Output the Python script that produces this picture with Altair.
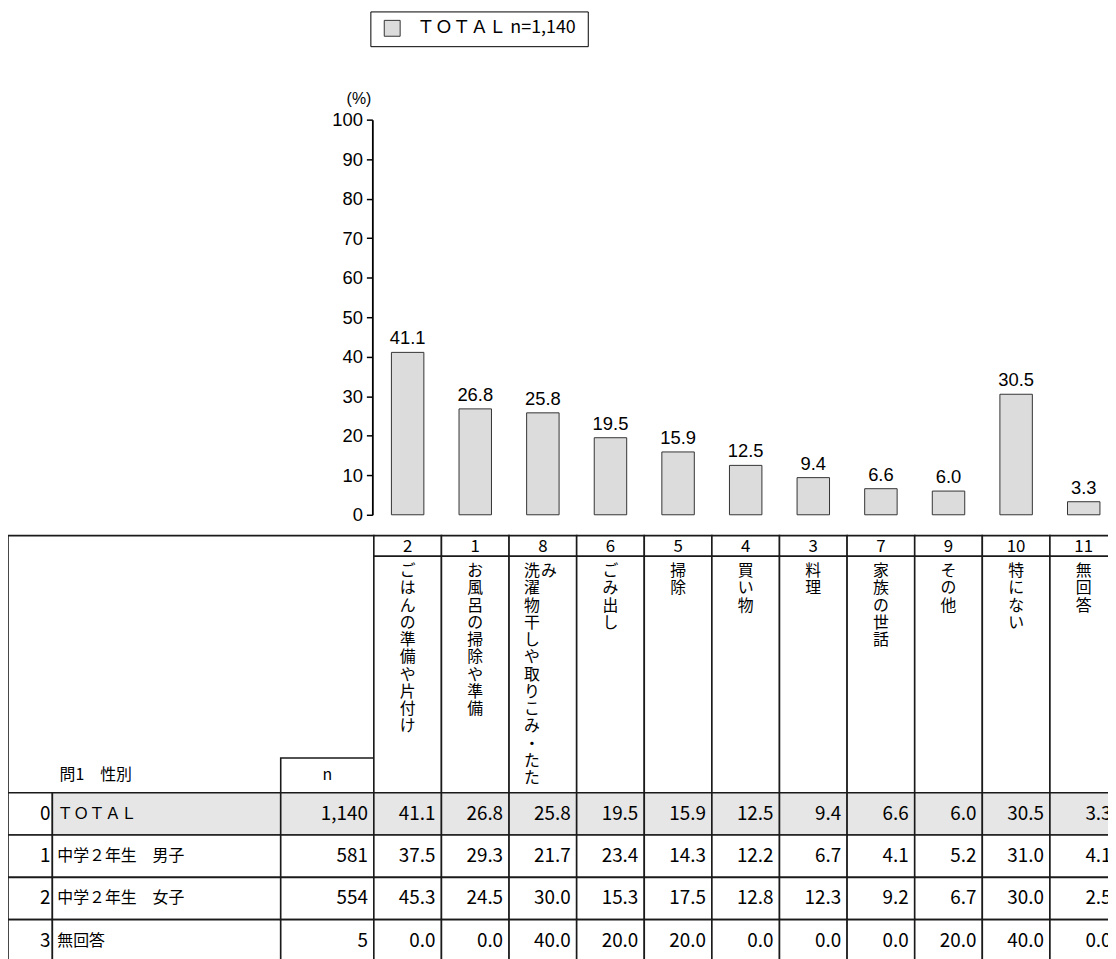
import altair as alt
import pandas as pd

# ---------------- data ----------------
codes = ["2", "1", "8", "6", "5", "4", "3", "7", "9", "10", "11"]
items = ["ごはんの準備や片付け", "お風呂の掃除や準備", "洗濯物干しや取りこみ・たたみ", "ごみ出し",
         "掃除", "買い物", "料理", "家族の世話", "その他", "特にない", "無回答"]
total_pct = [41.1, 26.8, 25.8, 19.5, 15.9, 12.5, 9.4, 6.6, 6.0, 30.5, 3.3]
boys_pct = [37.5, 29.3, 21.7, 23.4, 14.3, 12.2, 6.7, 4.1, 5.2, 31.0, 4.1]
girls_pct = [45.3, 24.5, 30.0, 15.3, 17.5, 12.8, 12.3, 9.2, 6.7, 30.0, 2.5]
noans_pct = [0.0, 0.0, 40.0, 20.0, 20.0, 0.0, 0.0, 0.0, 20.0, 40.0, 0.0]
row_ids = ["0", "1", "2", "3"]
row_names = ["ＴＯＴＡＬ", "中学２年生　男子", "中学２年生　女子", "無回答"]
row_n = [1140, 581, 554, 5]
series_name = "ＴＯＴＡＬ"
series_n = 1140
y_ticks = [0, 10, 20, 30, 40, 50, 60, 70, 80, 90, 100]
axis_unit = "(%)"
row_header = "問1　性別"
n_header = "n"

# ---------------- layout / style ----------------
W, H = 1108, 951
COL_START = 368.5
STEP = 68.1
COL_END = COL_START + STEP * len(codes)
AXIS_X = 367
Y0, Y100 = 507, 109
T_TOP, T_NUM, T_HEAD = 528, 548.7, 787
ROW_H = 42.6
T_BOT = T_HEAD + ROW_H * len(row_ids)
NBOX_TOP = 752
C_RN, C_N = 44.7, 274.7
MAX_CHARS = 13

LINE = "#1a1a1a"
SW = 1.6
GRAY = "#e6e6e6"
BARFILL = "#dcdcdc"
JP = "Noto Sans CJK JP"
LAT = "Liberation Sans"
NUM = "Noto Sans CJK JP"

# ---------------- frames ----------------
legend_label = f"{series_name}  n={series_n:,}"
bars_df = pd.DataFrame({"code": codes, "value": total_pct, "series": legend_label})

rows_df = pd.DataFrame({"row": row_ids, "name": row_names, "n": [f"{v:,}" for v in row_n]})

vals = []
for rid, series in zip(row_ids, [total_pct, boys_pct, girls_pct, noans_pct]):
    for c, v in zip(codes, series):
        vals.append({"row": rid, "code": c, "val": f"{v:.1f}"})
vals_df = pd.DataFrame(vals)

head = []
for c, it in zip(codes, items):
    ch = list(it)
    main, over = ch[:MAX_CHARS], ch[MAX_CHARS:]
    head.append({"code": c, "txt": "\n".join(main), "part": "main" if over else "single"})
    if over:
        head.append({"code": c, "txt": "\n".join(over), "part": "over"})
head_df = pd.DataFrame(head)
codes_df = pd.DataFrame({"code": codes})
one = pd.DataFrame({"k": [0]})

xscale = alt.Scale(domain=codes, range=[COL_START, COL_END], paddingInner=0, paddingOuter=0)
yscale = alt.Scale(domain=[0, 100], range=[Y0, Y100], nice=False, zero=True)
rscale = alt.Scale(domain=row_ids, range=[T_HEAD, T_BOT], paddingInner=0, paddingOuter=0)


def X(**kw):
    return alt.X("code:N", scale=xscale, axis=None, **kw)


def R():
    return alt.Y("row:N", scale=rscale, axis=None)


row_fill = alt.condition("datum.row == '0'", alt.value(GRAY), alt.value("white"))

# header frame (left block)
head_left = alt.Chart(one).mark_rect(fill="white", stroke=LINE, strokeWidth=SW).encode(
    x=alt.value(0), x2=alt.value(COL_START), y=alt.value(T_TOP), y2=alt.value(T_HEAD))
n_box = alt.Chart(one).mark_rect(fill="white", stroke=LINE, strokeWidth=SW).encode(
    x=alt.value(C_N), x2=alt.value(COL_START), y=alt.value(NBOX_TOP), y2=alt.value(T_HEAD))
n_text = alt.Chart(one).mark_text(text=n_header, font=NUM, fontSize=16, color="black").encode(
    x=alt.value((C_N + COL_START) / 2), y=alt.value((NBOX_TOP + T_HEAD) / 2))
rh_text = alt.Chart(one).mark_text(text=row_header, font=JP, fontSize=16, color="black",
                                   align="left").encode(
    x=alt.value(52), y=alt.value((NBOX_TOP + T_HEAD) / 2))

# header columns
num_cells = alt.Chart(codes_df).mark_rect(fill="white", stroke=LINE, strokeWidth=SW).encode(
    x=X(), y=alt.value(T_TOP), y2=alt.value(T_NUM))
lab_cells = alt.Chart(codes_df).mark_rect(fill="white", stroke=LINE, strokeWidth=SW).encode(
    x=X(), y=alt.value(T_NUM), y2=alt.value(T_HEAD))
num_text = alt.Chart(codes_df).mark_text(font=NUM, fontSize=17, color="black").encode(
    x=X(), y=alt.value((T_TOP + T_NUM) / 2 + 1), text="code:N")

vt_common = dict(font=JP, fontSize=16, color="black", lineBreak="\n", lineHeight=17.4,
                 baseline="top")
vt_single = alt.Chart(head_df).transform_filter("datum.part == 'single'").mark_text(
    **vt_common).encode(x=X(), y=alt.value(T_NUM + 7), text="txt:N")
vt_main = alt.Chart(head_df).transform_filter("datum.part == 'main'").mark_text(
    dx=-11, **vt_common).encode(x=X(), y=alt.value(T_NUM + 7), text="txt:N")
vt_over = alt.Chart(head_df).transform_filter("datum.part == 'over'").mark_text(
    dx=6, **vt_common).encode(x=X(), y=alt.value(T_NUM + 7), text="txt:N")

# body cells
rn_cells = alt.Chart(rows_df).mark_rect(fill="white", stroke=LINE, strokeWidth=SW).encode(
    x=alt.value(0), x2=alt.value(C_RN), y=R())
name_cells = alt.Chart(rows_df).mark_rect(stroke=LINE, strokeWidth=SW).encode(
    x=alt.value(C_RN), x2=alt.value(C_N), y=R(), fill=row_fill)
n_cells = alt.Chart(rows_df).mark_rect(stroke=LINE, strokeWidth=SW).encode(
    x=alt.value(C_N), x2=alt.value(COL_START), y=R(), fill=row_fill)
val_cells = alt.Chart(vals_df).mark_rect(stroke=LINE, strokeWidth=SW).encode(
    x=X(), y=R(), fill=row_fill)

rn_text = alt.Chart(rows_df).mark_text(font=NUM, fontSize=19, color="black", align="right").encode(
    x=alt.value(C_RN - 2), y=R(), text="row:N")
name_text = alt.Chart(rows_df).mark_text(font=JP, fontSize=16, color="black", align="left").encode(
    x=alt.value(C_RN + 5), y=R(), text="name:N")
n_val_text = alt.Chart(rows_df).mark_text(font=NUM, fontSize=19, color="black", align="right").encode(
    x=alt.value(COL_START - 6), y=R(), text="n:N")
val_text = alt.Chart(vals_df).mark_text(font=NUM, fontSize=19, color="black", align="right",
                                        dx=-6).encode(
    x=X(bandPosition=1), y=R(), text="val:N")

# bars
bars = alt.Chart(bars_df).mark_bar(stroke="#333333", strokeWidth=1, width={"band": 0.48}).encode(
    x=alt.X("code:N", scale=xscale,
            axis=alt.Axis(orient="bottom", offset=-(H - Y0), labels=False, ticks=False, title=None,
                          domainColor="black", domainWidth=1.8, grid=False)),
    y=alt.Y("value:Q", scale=yscale,
            axis=alt.Axis(orient="left", offset=-AXIS_X, values=y_ticks, tickSize=6, labelPadding=4,
                          labelFont=LAT, labelFontSize=18.5, labelColor="black", domainColor="black",
                          domainWidth=1.8, tickColor="black", tickWidth=1.5, grid=False,
                          title=axis_unit, titleAngle=0, titleX=-14, titleY=Y100 - 21,
                          titleFont=LAT, titleFontSize=16, titleFontWeight="normal",
                          titleAlign="center", titleBaseline="middle", titleColor="black")),
    color=alt.Color("series:N", scale=alt.Scale(domain=[legend_label], range=[BARFILL]),
                    legend=alt.Legend(title=None, orient="none", legendX=365, legendY=0,
                                      symbolType="square", symbolSize=256, symbolStrokeColor="#333333",
                                      symbolStrokeWidth=1, symbolFillColor=BARFILL,
                                      labelFont=JP, labelFontSize=18, labelColor="black",
                                      strokeColor="black", fillColor="white", padding=8,
                                      labelOffset=16, symbolOffset=5, labelLimit=400)),
)
bar_labels = alt.Chart(bars_df).mark_text(font=LAT, fontSize=18.5, color="black", baseline="alphabetic",
                                          dy=-8).encode(
    x=alt.X("code:N", scale=xscale, axis=None),
    y=alt.Y("value:Q", scale=yscale, axis=None),
    text=alt.Text("value:Q", format=".1f"),
)

chart = alt.layer(
    head_left, n_box, n_text, rh_text,
    num_cells, lab_cells, num_text, vt_single, vt_main, vt_over,
    rn_cells, name_cells, n_cells, val_cells,
    rn_text, name_text, n_val_text, val_text,
    bars, bar_labels,
).resolve_scale(y="independent").properties(
    width=W, height=H, autosize=alt.AutoSizeParams(type="none"), padding=0,
    background="white",
).configure_view(stroke=None)

chart.save("out.html", embed_options={"renderer": "svg", "actions": False})
